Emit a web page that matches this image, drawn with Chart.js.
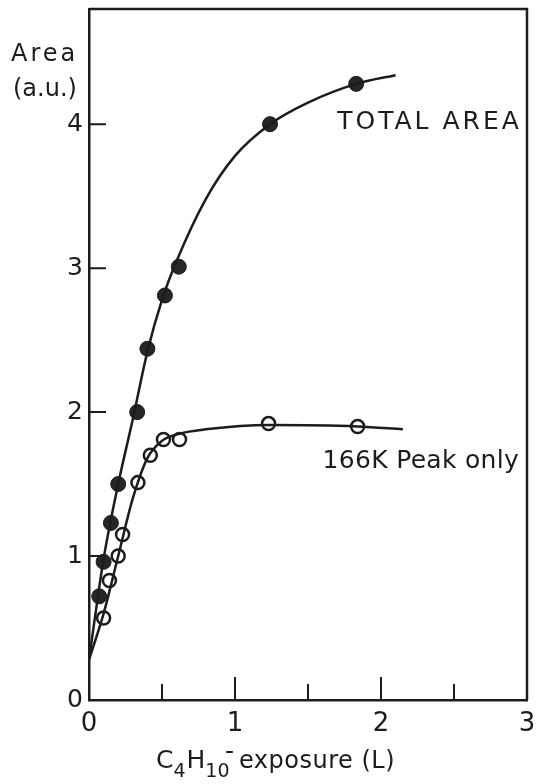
<!DOCTYPE html>
<html>
<head>
<meta charset="utf-8">
<script src="https://cdn.jsdelivr.net/npm/chart.js@4.4.0/dist/chart.umd.min.js"></script>
<style>
  html, body { margin: 0; padding: 0; background: #fff; }
  #wrap { width: 540px; height: 784px; }
</style>
</head>
<body>
<div id="wrap"><canvas id="chart"></canvas></div>
<script>
// measured points
const totalX = [0.07, 0.10, 0.15, 0.20, 0.33, 0.40, 0.52, 0.615, 1.24, 1.83];
const totalY = [0.72, 0.96, 1.23, 1.50, 2.00, 2.44, 2.81, 3.01, 4.00, 4.28];
const peakX = [0.10, 0.14, 0.20, 0.23, 0.335, 0.42, 0.51, 0.62, 1.23, 1.84];
const peakY = [0.57, 0.83, 1.00, 1.15, 1.51, 1.70, 1.81, 1.81, 1.92, 1.90];

// hand drawn fit curves
const totalCurveX = [0, 0.10, 0.20, 0.30, 0.40, 0.50, 0.60, 0.80, 1.00, 1.24, 1.50, 1.83, 2.10];
const totalCurveY = [0.28, 0.98, 1.50, 1.95, 2.42, 2.78, 3.05, 3.48, 3.78, 4.00, 4.15, 4.28, 4.34];
const peakCurveX = [0, 0.10, 0.20, 0.30, 0.40, 0.50, 0.62, 0.80, 1.23, 1.84, 2.15];
const peakCurveY = [0.28, 0.60, 1.00, 1.40, 1.68, 1.80, 1.85, 1.88, 1.91, 1.90, 1.88];

const xTicks = [0, 1, 2, 3];
const yTicks = [0, 1, 2, 3, 4];
const xMinorTicks = [0.5, 1.5, 2.5];

const ink = '#1c1c1c';
const font = '"DejaVu Sans", sans-serif';

const pts = (xs, ys) => xs.map((x, i) => ({ x: x, y: ys[i] }));

// frame, inward ticks and free text
const decor = {
    id: 'decor',
    afterDraw(chart) {
        const { ctx, chartArea: a, scales: { x, y } } = chart;
        ctx.save();
        ctx.strokeStyle = ink;
        ctx.lineWidth = 2.5;
        ctx.beginPath();
        ctx.moveTo(a.left, a.top);
        ctx.lineTo(a.right, a.top);
        ctx.lineTo(a.right, a.bottom);
        ctx.stroke();

        ctx.lineWidth = 2;
        ctx.beginPath();
        xTicks.slice(1, -1).forEach(v => {
            const px = x.getPixelForValue(v);
            ctx.moveTo(px, a.bottom);
            ctx.lineTo(px, a.bottom - 23);
        });
        xMinorTicks.forEach(v => {
            const px = x.getPixelForValue(v);
            ctx.moveTo(px, a.bottom);
            ctx.lineTo(px, a.bottom - 16);
        });
        yTicks.slice(1).forEach(v => {
            const py = y.getPixelForValue(v);
            ctx.moveTo(a.left, py);
            ctx.lineTo(a.left + 17, py);
        });
        ctx.stroke();

        ctx.fillStyle = ink;
        ctx.textBaseline = 'middle';
        ctx.textAlign = 'left';
        ctx.font = '25px ' + font;
        ctx.letterSpacing = '3px';
        ctx.fillText('TOTAL AREA', x.getPixelForValue(1.70), y.getPixelForValue(4.01));
        ctx.letterSpacing = '0.3px';
        ctx.fillText('166K Peak only', x.getPixelForValue(1.60), y.getPixelForValue(1.66));

        // y title
        ctx.font = '24px ' + font;
        ctx.letterSpacing = '3px';
        ctx.fillText('Area', 11, 55);
        ctx.letterSpacing = '0px';
        ctx.fillText('(a.u.)', 13, 90);

        // x title with subscripts
        ctx.textBaseline = 'alphabetic';
        ctx.font = '25px ' + font;
        let cx = 156;
        const base = 768;
        ctx.fillText('C', cx, base); cx += ctx.measureText('C').width;
        ctx.font = '19px ' + font;
        ctx.fillText('4', cx, base + 9); cx += ctx.measureText('4').width + 1;
        ctx.font = '25px ' + font;
        ctx.fillText('H', cx, base); cx += ctx.measureText('H').width;
        ctx.font = '19px ' + font;
        ctx.fillText('10', cx, base + 9);
        ctx.font = '25px ' + font;
        ctx.fillText('-', 225, base - 9);
        ctx.font = '24px ' + font;
        ctx.letterSpacing = '0.5px';
        ctx.fillText('exposure (L)', 239, base);
        ctx.restore();
    }
};

new Chart(document.getElementById('chart'), {
    type: 'scatter',
    data: {
        datasets: [
            {
                label: 'Total area fit',
                data: pts(totalCurveX, totalCurveY),
                showLine: true,
                cubicInterpolationMode: 'monotone',
                borderColor: ink,
                borderWidth: 2.5,
                pointRadius: 0,
            },
            {
                label: '166K fit',
                data: pts(peakCurveX, peakCurveY),
                showLine: true,
                cubicInterpolationMode: 'monotone',
                borderColor: ink,
                borderWidth: 2.5,
                pointRadius: 0,
            },
            {
                label: 'TOTAL AREA',
                data: pts(totalX, totalY),
                pointRadius: 7.5,
                pointBackgroundColor: '#262626',
                pointBorderColor: ink,
                pointBorderWidth: 1,
            },
            {
                label: '166K Peak only',
                data: pts(peakX, peakY),
                pointRadius: 6.5,
                pointBackgroundColor: '#fff',
                pointBorderColor: ink,
                pointBorderWidth: 2.5,
            },
        ],
    },
    options: {
        responsive: true,
        maintainAspectRatio: false,
        animation: false,
        layout: { padding: { top: 6, right: 13, left: 0, bottom: 0 } },
        plugins: {
            legend: { display: false },
            tooltip: { enabled: false },
        },
        scales: {
            x: {
                type: 'linear',
                min: 0,
                max: 3,
                afterBuildTicks: s => { s.ticks = xTicks.map(v => ({ value: v })); },
                afterFit: s => { s.height = 84; s.paddingLeft = 0; s.paddingRight = 0; },
                grid: { display: false, drawTicks: false },
                border: { display: true, color: ink, width: 2.5 },
                ticks: {
                    color: ink,
                    font: { family: font, size: 26 },
                    padding: 9,
                    maxRotation: 0,
                },
            },
            y: {
                type: 'linear',
                min: 0,
                max: 4.8,
                afterBuildTicks: s => { s.ticks = yTicks.map(v => ({ value: v })); },
                afterFit: s => { s.width = 89; s.paddingTop = 0; s.paddingBottom = 0; },
                grid: { display: false, drawTicks: false },
                border: { display: true, color: ink, width: 2.5 },
                ticks: {
                    color: ink,
                    font: { family: font, size: 25 },
                    padding: 6,
                },
            },
        },
    },
    plugins: [decor],
});
</script>
</body>
</html>
